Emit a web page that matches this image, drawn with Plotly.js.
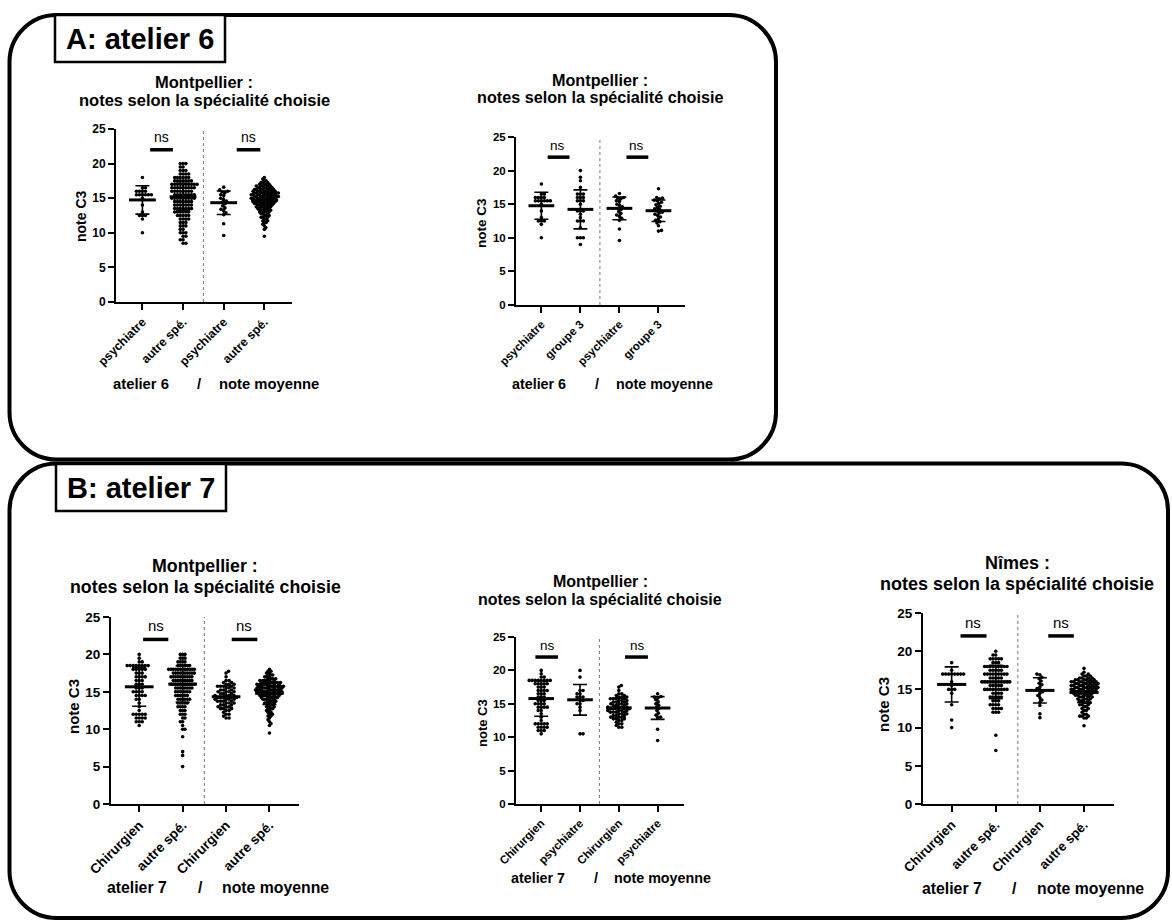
<!DOCTYPE html>
<html><head><meta charset="utf-8">
<script src="https://cdn.plot.ly/plotly-3.0.1.min.js"></script>
<style>html,body{margin:0;padding:0;background:#fff}#chart{width:1172px;height:922px}</style>
</head><body><div id="chart"></div>
<script>
// ---------------- DATA ----------------
// Panel A, Montpellier, atelier 6
const catsA1 = ['psychiatre', 'autre spé.', 'psychiatre', 'autre spé.'];
const catsA2 = ['psychiatre', 'groupe 3', 'psychiatre', 'groupe 3'];
const psyA6 = [18,16.5,16.5,16,16,16,16,15.5,15.5,15.5,15.5,15.5,15.5,15,14,13,12.5,12.5,12.5,12,10];
const autreA6Levels = [8.5,9,9.5,10,10.5,11,11.5,12,12.5,13,13.5,14,14.5,15,15.5,16,16.5,17,17.5,18,18.5,19,19.5,20];
const autreA6Counts = [2,2,2,3,2,3,3,4,5,6,7,7,7,9,8,8,9,10,7,6,4,3,2,3];
const psyA6moy = [16.6,16.2,16.0,15.9,15.8,15.5,15.4,15.0,14.8,14.6,14.4,14.2,13.9,13.6,13.4,13.2,12.9,12.6,11.3,9.6];
const autreA6moyLevels = [9.5,10.5,10.75,11,11.25,11.5,11.75,12,12.25,12.5,12.75,13,13.25,13.5,13.75,14,14.25,14.5,14.75,15,15.25,15.5,15.75,16,16.25,16.5,16.75,17,17.25,17.5,17.75,18];
const autreA6moyCounts = [1,1,1,1,1,2,2,2,3,3,3,4,4,5,5,6,7,8,8,9,9,9,9,8,7,6,5,4,3,2,1,1];
const grp3A6 = [20,19,18.5,17.5,16.5,16.5,16.5,16,16,16,15.5,15.5,15.5,15,14,14,14,13.5,13,12.5,12.5,12.5,11.5,10,10,10,9];
const grp3A6moy = [17.3,16.0,15.9,15.8,15.6,15.5,15.3,15.1,14.9,14.7,14.5,14.3,14.2,14.0,13.8,13.7,13.5,13.3,13.1,12.8,12.6,12.4,12.2,11.8,11.1,11.0];
const meansA1 = [14.75, 15.2, 14.35, 14.7];
const sdsA1 = [2.05, 1.95, 1.7, 1.4];
const meansA2 = [14.77, 14.23, 14.38, 14.03];
const sdsA2 = [2.0, 2.9, 1.7, 1.6];

// Panel B, atelier 7
const catsB1 = ['Chirurgien', 'autre spé.', 'Chirurgien', 'autre spé.'];
const catsB2 = ['Chirurgien', 'psychiatre', 'Chirurgien', 'psychiatre'];
const catsB3 = ['Chirurgien', 'autre spé.', 'Chirurgien', 'autre spé.'];
const chirA7Levels = [10.5,11,11.5,12,12.5,13,13.5,14,14.5,15,15.5,16,16.5,17,17.5,18,18.5,19,19.5,20];
const chirA7Counts = [1,3,4,5,1,1,1,2,4,4,3,3,3,4,3,5,8,2,1,1];
const autreA7Levels = [5,6.5,7,9,10,10.5,11,11.5,12,12.5,13,13.5,14,14.5,15,15.5,16,16.5,17,17.5,18,18.5,19,19.5,20];
const autreA7Counts = [1,1,1,1,2,1,2,2,3,3,4,5,6,6,7,8,11,9,10,10,12,6,4,3,3];
const chirA7moyLevels = [11.5,11.75,12,12.25,12.5,12.75,13,13.25,13.5,13.75,14,14.25,14.5,14.75,15,15.25,15.5,15.75,16,16.25,16.5,17,17.5,17.75];
const chirA7moyCounts = [2,1,2,1,2,3,3,3,3,4,4,5,4,3,4,3,3,4,3,2,2,1,1,1];
const autreA7moyLevels = [9.5,10.5,10.75,11,11.25,11.5,11.75,12,12.25,12.5,12.75,13,13.25,13.5,13.75,14,14.25,14.5,14.75,15,15.25,15.5,15.75,16,16.25,16.5,16.75,17,17.25,17.5,17.75,18];
const autreA7moyCounts = [1,1,1,1,1,1,2,2,2,2,3,3,3,4,4,5,6,7,8,9,9,9,9,8,7,6,4,3,3,2,2,1];
const psyA7 = [20,19,17,17,16.5,16.5,16,16,16,15.5,15.5,15,15,14.5,14,10.5,10.5];
const psyA7moy = [16.5,16.1,16.0,15.9,15.6,15.3,15.0,14.8,14.5,14.3,14.0,13.6,13.3,13.0,12.9,11.2,9.5];
const chirN7 = [18.5,17.5,17,17,17,17,17,17,17,17,16,15.5,15,15,15,14.5,13,11,10];
const autreN7Levels = [7,9,12,12.5,13,13.5,14,14.5,15,15.5,16,16.5,17,17.5,18,18.5,19,19.5,20];
const autreN7Counts = [1,1,3,4,4,3,5,4,9,5,11,5,9,5,9,3,5,2,1];
const chirN7moy = [17.0,16.9,16.6,16.4,16.1,15.8,15.6,15.3,15.1,14.9,14.7,14.5,14.2,13.9,13.6,13.3,12.9,11.8,11.3];
const autreN7moyLevels = [10.25,11.25,11.5,11.75,12,12.25,12.5,12.75,13,13.25,13.5,13.75,14,14.25,14.5,14.75,15,15.25,15.5,15.75,16,16.25,16.5,16.75,17,17.25,17.75];
const autreN7moyCounts = [1,2,3,2,1,2,2,2,3,3,3,4,4,5,5,6,7,7,7,7,7,6,4,3,2,1,1];
const meansB1 = [15.67, 16.03, 14.34, 14.8];
const sdsB1 = [2.6, 2.45, 1.45, 1.5];
const meansB2 = [15.78, 15.6, 14.4, 14.37];
const sdsB2 = [2.65, 2.3, 1.45, 1.7];
const meansB3 = [15.65, 15.97, 14.87, 14.6];
const sdsB3 = [2.3, 2.2, 1.65, 1.3];
const yTicks = [0, 5, 10, 15, 20, 25];

// ---------------- HELPERS ----------------
const W = 1172, H = 922;
const FONT = 'Liberation Sans, Arial, Helvetica, sans-serif';
const XR = [-0.65, 3.68];
function expand(levels, counts) { const o = []; levels.forEach((v, i) => { for (let k = 0; k < counts[i]; k++) o.push(v); }); return o; }
function swarm(vals, cx, ppx, ppy, d, maxHalf) {
  const idx = vals.map((v, i) => i).sort((a, b) => vals[a] - vals[b]);
  const placed = []; const offs = new Array(vals.length); let flip = 1;
  for (const i of idx) {
    const yp = vals[i] * ppy; let chosen = null;
    for (let s = 0; s <= 300 && chosen === null; s += 0.25) {
      const cands = s === 0 ? [0] : [s * flip, -s * flip];
      for (const c of cands) {
        let ok = true;
        for (const p of placed) { const dy = p[1] - yp; if (Math.abs(dy) >= d) continue; const dx = p[0] - c; if (dx * dx + dy * dy < d * d) { ok = false; break; } }
        if (ok) { chosen = c; break; }
      }
    }
    if (chosen !== 0) flip = -flip;
    placed.push([chosen, yp]); offs[i] = chosen;
  }
  let m = 0; offs.forEach(o => m = Math.max(m, Math.abs(o)));
  const f = m > maxHalf ? maxHalf / m : 1;
  return offs.map(o => cx + o * f / ppx);
}
const P = (x, y) => `${(x / W).toFixed(5)},${(1 - y / H).toFixed(5)}`;
function roundRect(l, t, r, b, rx, ry) {
  const k = 0.5523;
  return `M ${P(l + rx, t)} L ${P(r - rx, t)} C ${P(r - rx + k * rx, t)} ${P(r, t + ry - k * ry)} ${P(r, t + ry)} ` +
    `L ${P(r, b - ry)} C ${P(r, b - ry + k * ry)} ${P(r - rx + k * rx, b)} ${P(r - rx, b)} ` +
    `L ${P(l + rx, b)} C ${P(l + rx - k * rx, b)} ${P(l, b - ry + k * ry)} ${P(l, b - ry)} ` +
    `L ${P(l, t + ry)} C ${P(l, t + ry - k * ry)} ${P(l + rx - k * rx, t)} ${P(l + rx, t)} Z`;
}
const bold = s => '<b>' + s + '</b>';

// ---------------- PLOT CONFIGS (layout only) ----------------
const plots = [
  { px: [116, 292], py: [129, 302], cats: catsA1, groups: [psyA6, expand(autreA6Levels, autreA6Counts), psyA6moy, expand(autreA6moyLevels, autreA6moyCounts)],
    means: meansA1, sds: sdsA1, title: ['Montpellier :', 'notes selon la spécialité choisie'], tx: 204, ty: [82, 100], ts: 16.5, ks: 12, kxs: 12.3,
    yt: [81, 216], yts: 14, capY: 384, cap: [[141, 'atelier 6'], [199, '/'], [269, 'note moyenne']], cs: 14.8, sig: [[0.19, 0.75], [2.32, 2.9]], ns: [0.46, 2.6], nss: 14 },
  { px: [516, 685], py: [137, 305], cats: catsA2, groups: [psyA6, grp3A6, psyA6moy, grp3A6moy],
    means: meansA2, sds: sdsA2, title: ['Montpellier :', 'notes selon la spécialité choisie'], tx: 600, ty: [80, 97], ts: 16.2, ks: 11.5, kxs: 11.6,
    yt: [481, 223], yts: 13.5, capY: 384, cap: [[539, 'atelier 6'], [597, '/'], [664, 'note moyenne']], cs: 14.3, sig: [[0.16, 0.72], [2.18, 2.74]], ns: [0.42, 2.45], nss: 13.5 },
  { px: [111, 299], py: [617, 804], cats: catsB1, groups: [expand(chirA7Levels, chirA7Counts), expand(autreA7Levels, autreA7Counts), expand(chirA7moyLevels, chirA7moyCounts), expand(autreA7moyLevels, autreA7moyCounts)],
    means: meansB1, sds: sdsB1, title: ['Montpellier :', 'notes selon la spécialité choisie'], tx: 205, ty: [566, 587], ts: 17.8, ks: 13.5, kxs: 13.6,
    yt: [73, 707], yts: 15, capY: 887, cap: [[137, 'atelier 7'], [200, '/'], [275, 'note moyenne']], cs: 15.8, sig: [[0.09, 0.67], [2.13, 2.72]], ns: [0.38, 2.41], nss: 15 },
  { px: [516, 684], py: [637, 804], cats: catsB2, groups: [expand(chirA7Levels, chirA7Counts), psyA7, expand(chirA7moyLevels, chirA7moyCounts), psyA7moy],
    means: meansB2, sds: sdsB2, title: ['Montpellier :', 'notes selon la spécialité choisie'], tx: 600, ty: [581, 599], ts: 16, ks: 11.5, kxs: 11.5,
    yt: [482, 723], yts: 13, capY: 878, cap: [[538, 'atelier 7'], [596, '/'], [662, 'note moyenne']], cs: 14.3, sig: [[-0.15, 0.43], [2.16, 2.75]], ns: [0.15, 2.47], nss: 13.5 },
  { px: [923, 1114], py: [613, 804], cats: catsB3, groups: [chirN7, expand(autreN7Levels, autreN7Counts), chirN7moy, expand(autreN7moyLevels, autreN7moyCounts)],
    means: meansB3, sds: sdsB3, title: ['Nîmes :', 'notes selon la spécialité choisie'], tx: 1017, ty: [563, 584], ts: 18, ks: 13.5, kxs: 13.2,
    yt: [883, 705], yts: 15, capY: 888, cap: [[952, 'atelier 7'], [1015, '/'], [1090, 'note moyenne']], cs: 15.8, sig: [[0.2, 0.79], [2.19, 2.77]], ns: [0.49, 2.47], nss: 15 },
];

const traces = [], shapes = [], annotations = [];
const layout = { width: W, height: H, margin: { l: 0, r: 0, t: 0, b: 0 }, paper_bgcolor: '#fff', plot_bgcolor: 'rgba(0,0,0,0)', showlegend: false, hovermode: false, font: { family: FONT, color: '#000' } };

plots.forEach((p, n) => {
  const s = n === 0 ? '' : String(n + 1);
  const xa = 'x' + s, ya = 'y' + s;
  const wpx = p.px[1] - p.px[0], hpx = p.py[1] - p.py[0];
  const ppx = wpx / (XR[1] - XR[0]), ppy = hpx / 25;
  layout['xaxis' + s] = { domain: [p.px[0] / W, p.px[1] / W], range: XR, anchor: ya, tickmode: 'array', tickvals: [0, 1, 2, 3], ticktext: p.cats.map(bold),
    tickangle: -45, ticks: 'outside', ticklen: 6, tickwidth: 2, tickcolor: '#000', showline: true, linewidth: 2, linecolor: '#000', showgrid: false, zeroline: false,
    tickfont: { family: FONT, size: p.kxs, color: '#000' }, fixedrange: true };
  layout['yaxis' + s] = { domain: [1 - p.py[1] / H, 1 - p.py[0] / H], range: [0, 25], anchor: xa, tickmode: 'array', tickvals: yTicks, ticktext: yTicks.map(v => bold(String(v))),
    ticks: 'outside', ticklen: 6, tickwidth: 2, tickcolor: '#000', showline: true, linewidth: 2, linecolor: '#000', showgrid: false, zeroline: false,
    tickfont: { family: FONT, size: p.ks, color: '#000' }, fixedrange: true };
  p.groups.forEach((g, gi) => {
    traces.push({ type: 'scatter', mode: 'markers', xaxis: xa, yaxis: ya, x: swarm(g, gi, ppx, ppy, 3.0, 14), y: g,
      marker: { size: 3.6, color: '#000', line: { width: 0 } }, cliponaxis: false });
  });
  traces.push({ type: 'scatter', mode: 'markers', xaxis: xa, yaxis: ya, x: [0, 1, 2, 3], y: p.means,
    marker: { size: 1, color: 'rgba(0,0,0,0)' }, error_y: { type: 'data', array: p.sds, visible: true, width: 7, thickness: 1.6, color: '#000' } });
  const mx = [], my = [];
  p.means.forEach((m, i) => { mx.push(i - 0.33, i + 0.33, null); my.push(m, m, null); });
  traces.push({ type: 'scatter', mode: 'lines', xaxis: xa, yaxis: ya, x: mx, y: my, line: { color: '#000', width: 3 } });
  shapes.push({ type: 'line', xref: xa, yref: ya, x0: 1.5, x1: 1.5, y0: 0, y1: 25, line: { color: '#777', width: 1, dash: 'dot' } });
  p.sig.forEach((b, i) => {
    shapes.push({ type: 'line', xref: xa, yref: ya, x0: b[0], x1: b[1], y0: 22, y1: 22, line: { color: '#000', width: 3.5 } });
    annotations.push({ xref: xa, yref: ya, x: p.ns[i], y: 23.8, text: 'ns', showarrow: false, xanchor: 'center', yanchor: 'middle', font: { family: FONT, size: p.nss, color: '#000' } });
  });
  p.title.forEach((t, i) => annotations.push({ xref: 'paper', yref: 'paper', x: p.tx / W, y: 1 - p.ty[i] / H, text: bold(t), showarrow: false,
    xanchor: 'center', yanchor: 'middle', font: { family: FONT, size: p.ts, color: '#000' } }));
  annotations.push({ xref: 'paper', yref: 'paper', x: p.yt[0] / W, y: 1 - p.yt[1] / H, text: bold('note C3'), textangle: -90, showarrow: false,
    xanchor: 'center', yanchor: 'middle', font: { family: FONT, size: p.yts, color: '#000' } });
  p.cap.forEach(c => annotations.push({ xref: 'paper', yref: 'paper', x: c[0] / W, y: 1 - p.capY / H, text: bold(c[1]), showarrow: false,
    xanchor: 'center', yanchor: 'middle', font: { family: FONT, size: p.cs, color: '#000' } }));
});

shapes.push({ type: 'path', xref: 'paper', yref: 'paper', path: roundRect(9.5, 15, 776, 459.5, 47, 47), line: { color: '#000', width: 4 } });
shapes.push({ type: 'path', xref: 'paper', yref: 'paper', path: roundRect(9.5, 463.5, 1168, 918, 47, 47), line: { color: '#000', width: 4 } });
shapes.push({ type: 'rect', xref: 'paper', yref: 'paper', x0: 55 / W, x1: 225 / W, y0: 1 - 62 / H, y1: 1 - 15 / H, fillcolor: '#fff', line: { color: '#000', width: 2.5 } });
shapes.push({ type: 'rect', xref: 'paper', yref: 'paper', x0: 56 / W, x1: 226 / W, y0: 1 - 511 / H, y1: 1 - 464 / H, fillcolor: '#fff', line: { color: '#000', width: 2.5 } });
annotations.push({ xref: 'paper', yref: 'paper', x: 140 / W, y: 1 - 39 / H, text: bold('A: atelier 6'), showarrow: false, xanchor: 'center', yanchor: 'middle', font: { family: FONT, size: 29, color: '#000' } });
annotations.push({ xref: 'paper', yref: 'paper', x: 141 / W, y: 1 - 488 / H, text: bold('B: atelier 7'), showarrow: false, xanchor: 'center', yanchor: 'middle', font: { family: FONT, size: 29, color: '#000' } });

layout.shapes = shapes;
layout.annotations = annotations;
Plotly.newPlot('chart', traces, layout, { staticPlot: true, displayModeBar: false });
</script>
</body></html>
